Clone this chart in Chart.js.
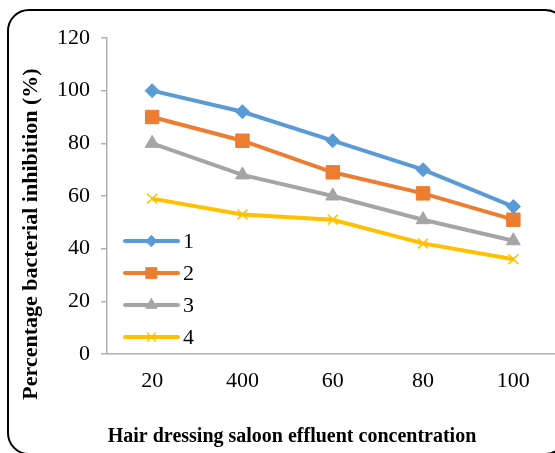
<!DOCTYPE html>
<html>
<head>
<meta charset="utf-8">
<script src="https://cdn.jsdelivr.net/npm/chart.js@4.4.0/dist/chart.umd.min.js"></script>
<style>
  html, body { margin: 0; padding: 0; background: #fff; overflow: hidden; }
  #wrap { position: relative; width: 555px; height: 453px; overflow: hidden; }
  #frame {
    position: absolute; left: 7px; top: 9px; width: 556px; height: 442px;
    border: 2px solid #000; border-radius: 22px;
  }
  canvas { position: absolute; left: 0; top: 0; }
</style>
</head>
<body>
<div id="wrap">
  <div id="frame"></div>
  <canvas id="chart" width="569" height="453"></canvas>
</div>
<script>
const categories = ["20", "400", "60", "80", "100"];
const series1 = [100, 92, 81, 70, 56];
const series2 = [90, 81, 69, 61, 51];
const series3 = [80, 68, 60, 51, 43];
const series4 = [59, 53, 51, 42, 36];
const seriesLabels = ["1", "2", "3", "4"];
const yTitle = "Percentage bacterial inhibition (%)";
const xTitle = "Hair dressing saloon effluent concentration";

const serif = "'Liberation Serif', 'Times New Roman', serif";
const axisGray = "#b0b0b0";

const makeSet = (label, data, color, pointStyle, radius, borderWidth) => ({
  label,
  data,
  borderColor: color,
  backgroundColor: color,
  borderWidth: 4,
  pointStyle,
  pointRadius: radius,
  pointHoverRadius: radius,
  pointBorderWidth: borderWidth,
  pointBackgroundColor: color,
  pointBorderColor: color,
  tension: 0,
  fill: false,
});

// Legend drawn inside the plot: line with marker, then label
const insideLegend = {
  id: "insideLegend",
  afterDatasetsDraw(chart) {
    const { ctx, chartArea } = chart;
    const x0 = chartArea.left + 18;
    const x1 = chartArea.left + 71;
    chart.data.datasets.forEach((ds, i) => {
      const y = chartArea.top + 203 + 32 * i;
      ctx.save();
      ctx.strokeStyle = ds.borderColor;
      ctx.lineWidth = 4;
      ctx.lineCap = "round";
      ctx.beginPath();
      ctx.moveTo(x0, y);
      ctx.lineTo(x1, y);
      ctx.stroke();
      ctx.fillStyle = ds.pointBackgroundColor;
      ctx.strokeStyle = ds.pointBorderColor;
      ctx.lineWidth = ds.pointBorderWidth;
      Chart.helpers.drawPoint(ctx, {
        pointStyle: ds.pointStyle,
        radius: ds.pointRadius * 0.8,
        borderWidth: ds.pointBorderWidth,
        rotation: 0,
      }, (x0 + x1) / 2, y);
      ctx.fillStyle = "#000";
      ctx.font = "22px " + serif;
      ctx.textBaseline = "middle";
      ctx.textAlign = "left";
      ctx.fillText(ds.label, x1 + 5, y + 1);
      ctx.restore();
    });
  },
};

// Axis titles
const axisTitles = {
  id: "axisTitles",
  afterDraw(chart) {
    const { ctx } = chart;
    ctx.save();
    ctx.fillStyle = "#000";
    ctx.textAlign = "center";
    ctx.textBaseline = "middle";
    ctx.font = "bold 20px " + serif;
    ctx.fillText(xTitle, 292, 437);
    ctx.font = "bold 22px " + serif;
    ctx.translate(31, 234);
    ctx.rotate(-Math.PI / 2);
    ctx.fillText(yTitle, 0, 0);
    ctx.restore();
  },
};

new Chart(document.getElementById("chart"), {
  type: "line",
  data: {
    labels: categories,
    datasets: [
      makeSet(seriesLabels[0], series1, "#5B9BD5", "rectRot", 7, 1),
      makeSet(seriesLabels[1], series2, "#ED7D31", "rect", 9.5, 1),
      makeSet(seriesLabels[2], series3, "#A5A5A5", "triangle", 8, 1),
      makeSet(seriesLabels[3], series4, "#FFC000", "crossRot", 7, 1.5),
    ],
  },
  options: {
    responsive: false,
    animation: false,
    devicePixelRatio: 1,
    layout: { padding: { top: 38, right: 0, bottom: 0, left: 0 } },
    plugins: {
      legend: { display: false },
      title: { display: false },
      tooltip: { enabled: false },
    },
    scales: {
      x: {
        offset: true,
        grid: { display: false },
        border: { display: true, color: axisGray, width: 1.5 },
        ticks: { color: "#000", font: { family: serif, size: 22 }, padding: 6, maxRotation: 0 },
        afterFit(scale) { scale.height = 99; },
      },
      y: {
        min: 0,
        max: 120,
        ticks: { stepSize: 20, color: "#000", font: { family: serif, size: 22 }, padding: 11 },
        grid: { drawOnChartArea: false, drawTicks: true, tickLength: 6, color: axisGray, lineWidth: 1.5 },
        border: { display: true, color: axisGray, width: 1.5 },
        afterFit(scale) { scale.width = 107; },
      },
    },
  },
  plugins: [insideLegend, axisTitles],
});
</script>
</body>
</html>
